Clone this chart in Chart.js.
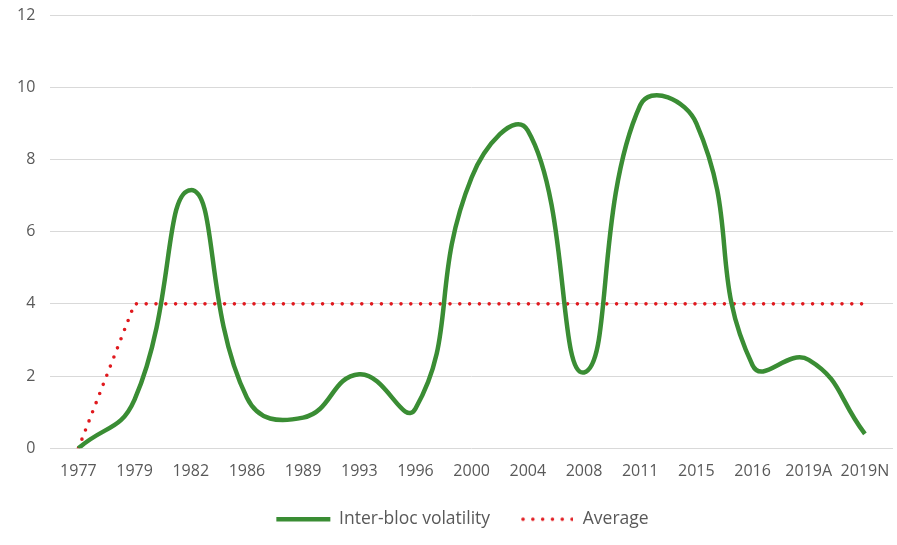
<!DOCTYPE html>
<html>
<head>
<meta charset="utf-8">
<script src="https://cdn.jsdelivr.net/npm/chart.js@4/dist/chart.umd.min.js"></script>
<style>
  html, body { margin: 0; padding: 0; background: #fff; }
  #wrap { width: 897px; height: 545px; }
</style>
</head>
<body>
<div id="wrap"><canvas id="myChart"></canvas></div>
<script>
// Election years (x axis)
const years = ["1977", "1979", "1982", "1986", "1989", "1993", "1996", "2000",
  "2004", "2008", "2011", "2015", "2016", "2019A", "2019N"];

// Inter-bloc volatility values
const volatility = [0, 1.35, 7.15, 1.4, 0.85, 2.05, 1.1, 7.5, 8.8, 2.1, 9.5, 9.0, 2.3, 2.45, 0.4];

// Average line (starts at 0 in 1977, then flat at 4)
const average = [0, 4, 4, 4, 4, 4, 4, 4, 4, 4, 4, 4, 4, 4, 4];

const textColor = "#595959";
const green = "#3a8d34";
const red = "#e0191e";
const tickFont = { family: "'Open Sans', 'Noto Sans', sans-serif", size: 16 };
const legendFont = { family: "'Open Sans', 'Noto Sans', sans-serif", size: 17.5 };

// small dotted sample for the "Average" legend entry
function dottedSample() {
  const c = document.createElement("canvas");
  c.width = 52;
  c.height = 6;
  const g = c.getContext("2d");
  g.fillStyle = red;
  for (let x = 2; x < 52; x += 9.8) {
    g.beginPath();
    g.arc(x, 3, 1.8, 0, Math.PI * 2);
    g.fill();
  }
  return c;
}
const avgLegendImg = dottedSample();

// nudge the legend right and up a bit, like the original
const legendShift = {
  id: "legendShift",
  afterLayout(chart) {
    const lg = chart.legend;
    lg.left += 15;
    lg.right += 15;
    lg.top -= 7;
    lg.bottom -= 7;
  },
};

const ctx = document.getElementById("myChart").getContext("2d");

new Chart(ctx, {
  type: "line",
  data: {
    labels: years,
    datasets: [
      {
        label: "Inter-bloc volatility",
        data: volatility,
        borderColor: green,
        backgroundColor: green,
        borderWidth: 4.5,
        tension: 0.48,
        pointRadius: 0,
        fill: false,
      },
      {
        label: "Average",
        data: average,
        borderColor: red,
        backgroundColor: red,
        borderWidth: 3.6,
        borderDash: [0, 9.8],
        borderCapStyle: "round",
        tension: 0,
        pointRadius: 0,
        fill: false,
      },
    ],
  },
  plugins: [legendShift],
  options: {
    responsive: true,
    maintainAspectRatio: false,
    animation: false,
    layout: { padding: { left: 2, right: 4, top: 15, bottom: 0 } },
    scales: {
      x: {
        offset: true,
        grid: { display: false },
        border: { display: false },
        ticks: { color: textColor, font: tickFont, maxRotation: 0, autoSkip: false, padding: 6 },
      },
      y: {
        min: 0,
        max: 12,
        ticks: { stepSize: 2, color: textColor, font: tickFont, padding: 15 },
        grid: { color: "#d9d9d9", lineWidth: 1, drawTicks: false },
        border: { display: false },
        afterFit(scale) {
          scale.paddingTop = 0;
        },
      },
    },
    plugins: {
      legend: {
        position: "bottom",
        labels: {
          usePointStyle: true,
          pointStyleWidth: 54,
          color: textColor,
          font: legendFont,
          padding: 30,
          generateLabels(chart) {
            const items = Chart.defaults.plugins.legend.labels.generateLabels(chart);
            items.forEach((item) => {
              item.pointStyle = item.datasetIndex === 1 ? avgLegendImg : "line";
            });
            return items;
          },
        },
      },
      tooltip: { enabled: false },
    },
  },
});
</script>
</body>
</html>
